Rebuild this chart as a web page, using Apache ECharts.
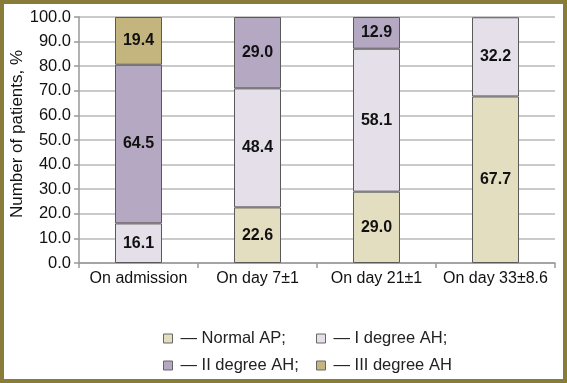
<!DOCTYPE html>
<html>
<head>
<meta charset="utf-8">
<script src="https://cdn.jsdelivr.net/npm/echarts@6/dist/echarts.min.js"></script>
<style>
html,body{margin:0;padding:0;background:#fff;}
#c{width:567px;height:383px;}
</style>
</head>
<body>
<div id="c"></div>
<script>
var categories = ['On admission', 'On day 7±1', 'On day 21±1', 'On day 33±8.6'];
var seriesNames = ['Normal AP', 'I degree AH', 'II degree AH', 'III degree AH'];
var normalAP = [null, 22.6, 29.0, 67.7];
var degree1 = [16.1, 48.4, 58.1, 32.2];
var degree2 = [64.5, 29.0, 12.9, null];
var degree3 = [19.4, null, null, null];
var legendTexts = ['— Normal AP;', '— I degree AH;', '— II degree AH;', '— III degree AH'];

var colors = ['#e3dec0', '#e4dfe8', '#b5a8c2', '#c4b57f'];
var font = '"Liberation Sans", Arial, sans-serif';
var values = [normalAP, degree1, degree2, degree3];

var series = seriesNames.map(function (n, i) {
  return {
    name: n,
    type: 'bar',
    stack: 'total',
    barWidth: 47,
    data: values[i],
    itemStyle: { color: colors[i], borderColor: '#5a5a5a', borderWidth: 1 },
    label: {
      show: true,
      position: 'inside',
      formatter: function (p) { return p.value == null ? '' : Number(p.value).toFixed(1); },
      fontFamily: font, fontWeight: 'bold', fontSize: 16, color: '#111'
    }
  };
});

var legendPos = [[158, 325], [311, 325], [158, 352], [311, 352]];
var legends = seriesNames.map(function (n, i) {
  return {
    left: legendPos[i][0], top: legendPos[i][1],
    data: [n], icon: 'rect', itemWidth: 9, itemHeight: 9,
    selectedMode: false,
    itemStyle: { borderColor: '#666', borderWidth: 1 },
    formatter: function () { return legendTexts[i]; },
    textStyle: { fontFamily: font, fontSize: 16.5, color: '#222', padding: [0, 0, 0, 3] }
  };
});

var chart = echarts.init(document.getElementById('c'), null, { renderer: 'canvas' });
chart.setOption({
  animation: false,
  backgroundColor: '#fff',
  grid: { left: 79, right: 12, top: 17, bottom: 120, containLabel: false, outerBoundsMode: 'none' },
  legend: legends,
  graphic: [{
    type: 'rect', silent: true, z: 100,
    shape: { x: 2, y: 2, width: 563, height: 379 },
    style: { fill: 'none', stroke: '#877c38', lineWidth: 4 }
  }],
  xAxis: {
    type: 'category', data: categories,
    axisLine: { lineStyle: { color: '#999', width: 1.5 } },
    axisTick: { show: true, length: 5, lineStyle: { color: '#999', width: 1.5 } },
    axisLabel: { interval: 0, fontFamily: font, fontSize: 16, color: '#111', margin: 8 }
  },
  yAxis: {
    type: 'value', min: 0, max: 100, interval: 10,
    name: 'Number of patients, %', nameLocation: 'middle', nameGap: 53,
    nameMoveOverlap: false,
    nameTextStyle: { fontFamily: font, fontSize: 17, color: '#111', padding: [0, 0, 0, 12] },
    axisLine: { show: true, lineStyle: { color: '#999', width: 1.5 } },
    axisTick: { show: true, length: 5, lineStyle: { color: '#999', width: 1.5 } },
    axisLabel: { fontFamily: font, fontSize: 16.5, color: '#111', margin: 8,
      formatter: function (v) { return v.toFixed(1); } },
    splitLine: { lineStyle: { color: '#b8b8b8', width: 1.5 } }
  },
  series: series
});
</script>
</body>
</html>
